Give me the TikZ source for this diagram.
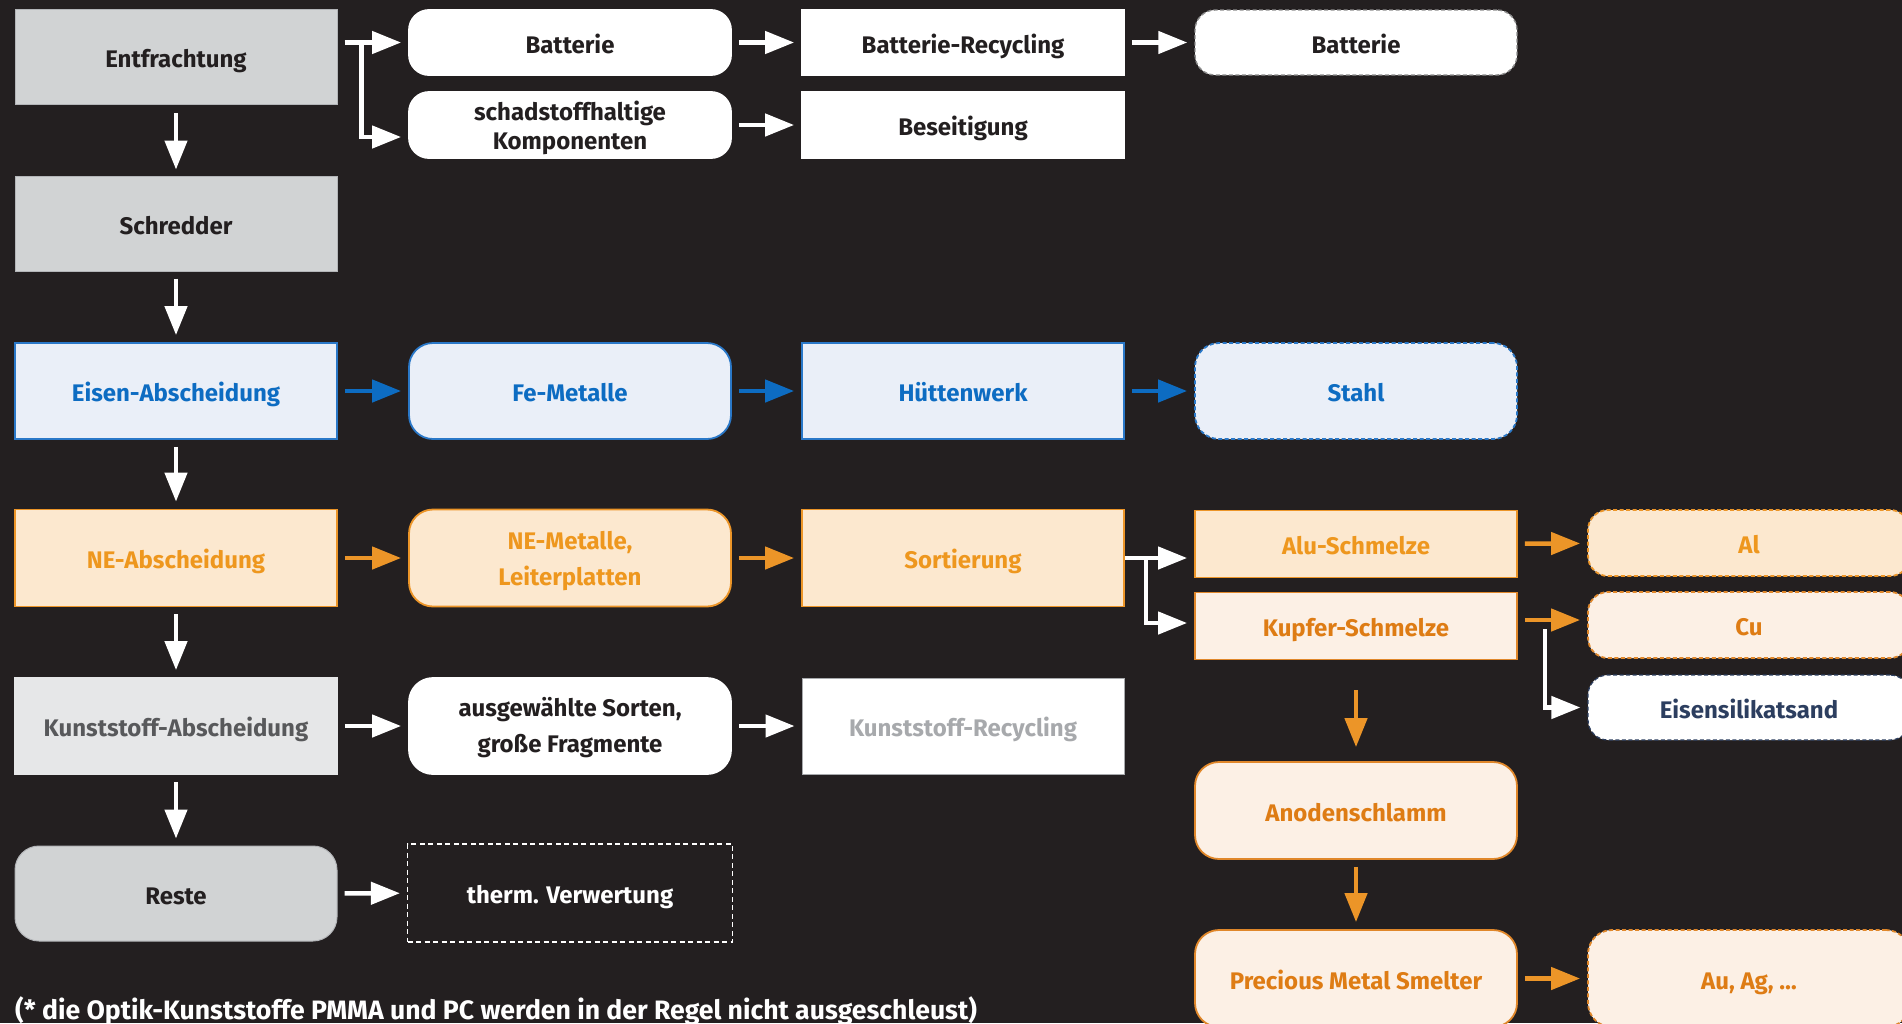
\documentclass[tikz,border=0pt]{standalone}
\usepackage{fontspec}
\setmainfont{Fira Sans}
\usetikzlibrary{arrows.meta}

\definecolor{bgc}{HTML}{231F20}
\definecolor{ink}{HTML}{231F20}
\definecolor{grayfill}{HTML}{D1D3D4}
\definecolor{grayline}{HTML}{B3B5B8}
\definecolor{lgfill}{HTML}{E6E7E8}
\definecolor{lgtext}{HTML}{58595B}
\definecolor{pale}{HTML}{A7A9AC}
\definecolor{bluefill}{HTML}{EAEFF8}
\definecolor{blueline}{HTML}{2A78C8}
\definecolor{bluetext}{HTML}{0D6CC2}
\definecolor{orfill}{HTML}{FCE8CF}
\definecolor{orline}{HTML}{EC9528}
\definecolor{ortext}{HTML}{EE971E}
\definecolor{cufill}{HTML}{FCF0E5}
\definecolor{culine}{HTML}{E0872A}
\definecolor{cutext}{HTML}{DE7C14}
\definecolor{navytext}{HTML}{2C3E5F}
\definecolor{dashgray}{HTML}{8C8C8C}

\begin{document}
\begin{tikzpicture}[x=1pt,y=-1pt,
  box/.style={rectangle, minimum width=322pt, inner sep=0pt, align=center,
    line width=1.8pt, font=\fontsize{24}{29}\selectfont\bfseries,
    text height=21pt, text depth=0pt},
  twoline/.style={font=\fontsize{24}{36}\selectfont\bfseries, text height=54pt},
  tall/.style={minimum height=96pt},
  short/.style={minimum height=66pt},
  round/.style={rounded corners=24pt},
  roundsm/.style={rounded corners=20pt},
  dashb/.style={dash pattern=on 4pt off 2.5pt},
  graybox/.style={box, fill=grayfill, draw=grayline, line width=1pt, text=ink},
  lgbox/.style={box, fill=lgfill, draw=lgfill, text=lgtext},
  whitebox/.style={box, fill=white, draw=white, text=ink},
  paledbox/.style={box, fill=white, draw=pale, line width=1pt, text=pale},
  bluebox/.style={box, fill=bluefill, draw=blueline, text=bluetext},
  orbox/.style={box, fill=orfill, draw=orline, text=ortext},
  cubox/.style={box, fill=cufill, draw=culine, text=cutext},
  arr/.style={line width=4.5pt, -{Triangle[length=29pt,width=22pt]},
    shorten <=7pt, shorten >=7pt},
  warr/.style={arr, draw=white},
  barr/.style={arr, draw=bluetext},
  oarr/.style={arr, draw=orline},
  wline/.style={line width=4pt, draw=white}
]
\fill[bgc] (0,0) rectangle (1902,1023);
\useasboundingbox (0,0) rectangle (1902,1023);

% column 1: process chain
\node[graybox, tall, minimum height=95pt] (entf) at (176,57) {Entfrachtung};
\node[graybox, tall, minimum height=95pt] (schred) at (176,223.5) {Schredder};
\node[bluebox, tall] (eisen) at (176,391) {Eisen-Abscheidung};
\node[orbox, tall, minimum height=97pt] (ne) at (176,558) {NE-Abscheidung};
\node[lgbox, tall] (kunst) at (176,726) {Kunststoff-Abscheidung};
\node[graybox, tall, minimum height=95pt, round] (reste) at (176,893.5) {Reste};

% column 2
\node[whitebox, short, roundsm, minimum height=65pt] (batt1) at (570,42.5) {Batterie};
\node[whitebox, short, roundsm, twoline, font=\fontsize{24}{29}\selectfont\bfseries, text height=48pt] (schad) at (570,125) {schadstoffhaltige\\Komponenten};
\node[bluebox, tall, round] (fe) at (570,391) {Fe-Metalle};
\node[orbox, tall, round, minimum height=97pt, twoline] (nemet) at (570,558) {NE-Metalle,\\Leiterplatten};
\node[whitebox, tall, round, twoline, text height=52pt] (ausg) at (570,726) {ausgewählte Sorten,\\große Fragmente};
\node[box, draw=white, line width=1.2pt, dash pattern=on 5pt off 3.5pt, text=white,
      minimum width=325pt, minimum height=98pt] (therm) at (570,893) {therm. Verwertung};

% column 3
\node[whitebox, short, minimum height=65pt] (brec) at (963,42.5) {Batterie-Recycling};
\node[whitebox, short] (beseit) at (963,125) {Beseitigung};
\node[bluebox, tall] (huette) at (963,391) {Hüttenwerk};
\node[orbox, tall, minimum height=97pt] (sort) at (963,558) {Sortierung};
\node[paledbox, tall] (krec) at (963,726) {Kunststoff-Recycling};

% column 4
\node[whitebox, short, roundsm, minimum height=65pt, draw=dashgray, line width=1.4pt, dashb] (batt2) at (1356,42.5) {Batterie};
\node[bluebox, tall, round, dashb] (stahl) at (1356,391) {Stahl};
\node[orbox, short, minimum height=67pt] (alu) at (1356,544) {Alu-Schmelze};
\node[cubox, short, minimum height=67pt] (kupfer) at (1356,626) {Kupfer-Schmelze};
\node[cubox, tall, round, minimum height=97pt] (anod) at (1356,810.5) {Anodenschlamm};
\node[cubox, tall, round, minimum height=97pt] (prec) at (1356,978.5) {Precious Metal Smelter};

% column 5
\node[orbox, short, roundsm, dashb] (al) at (1749,543) {Al};
\node[cubox, short, roundsm, dashb] (cu) at (1749,625) {Cu};
\node[whitebox, short, roundsm, minimum height=65pt, draw=navytext, line width=1.2pt, dashb, text=navytext] (eis) at (1749,707.5) {Eisensilikatsand};
\node[cubox, tall, round, minimum height=97pt, dashb] (au) at (1749,978.5) {Au, Ag, \dots};

% footnote
\node[anchor=base west, inner sep=0pt, text=white, font=\fontsize{26.6}{30}\selectfont\bfseries] (foot) at (15,1019)
  {(* die Optik-Kunststoffe PMMA und PC werden in der Regel nicht ausgeschleust)};

% main chain downwards
\draw[warr, shorten <=8pt, shorten >=6pt] (entf) -- (schred);
\draw[warr] (schred) -- (eisen);
\draw[warr] (eisen) -- (ne);
\draw[warr] (ne) -- (kunst);
\draw[warr] (kunst) -- (reste);

% dismantling branch
\coordinate (j1) at ([xshift=24pt]entf.east |- batt1.west);
\draw[wline] ([xshift=7pt]entf.east |- batt1.west) -- (j1);
\draw[warr, shorten <=0pt] (j1) |- ([yshift=-12pt]schad.west);
\draw[warr] (entf.east |- batt1.west) -- (batt1.west);
\draw[warr] (batt1) -- (brec);
\draw[warr] (brec) -- (batt2);
\draw[warr] (schad) -- (beseit);

% iron route
\draw[barr] (eisen) -- (fe);
\draw[barr] (fe) -- (huette);
\draw[barr] (huette) -- (stahl);

% non-ferrous route
\draw[oarr] (ne) -- (nemet);
\draw[oarr] (nemet) -- (sort);
\coordinate (j2) at ([xshift=21pt]sort.east);
\draw[wline] ([xshift=7pt]sort.east) -- (j2);
\draw[warr, shorten <=0pt] (sort.east) -- (sort.east -| alu.west);
\draw[warr, shorten <=0pt] (j2) |- ([yshift=3pt]kupfer.west);
\draw[oarr] (alu) -- (al);
\coordinate (j3) at ([xshift=27pt]kupfer.east);
\draw[warr, shorten <=0pt] ([yshift=-3pt]j3) |- (eis.west);
\draw[oarr] ([yshift=6pt]kupfer.east) -- ([yshift=5pt]cu.west);
\draw[oarr, shorten <=30pt, shorten >=14pt] (kupfer) -- (anod);
\draw[oarr] (anod) -- (prec);
\draw[oarr] (prec) -- (au);

% plastics and residues
\draw[warr] (kunst) -- (ausg);
\draw[warr] (ausg) -- (krec);
\draw[warr] (reste) -- (therm);
\end{tikzpicture}
\end{document}
